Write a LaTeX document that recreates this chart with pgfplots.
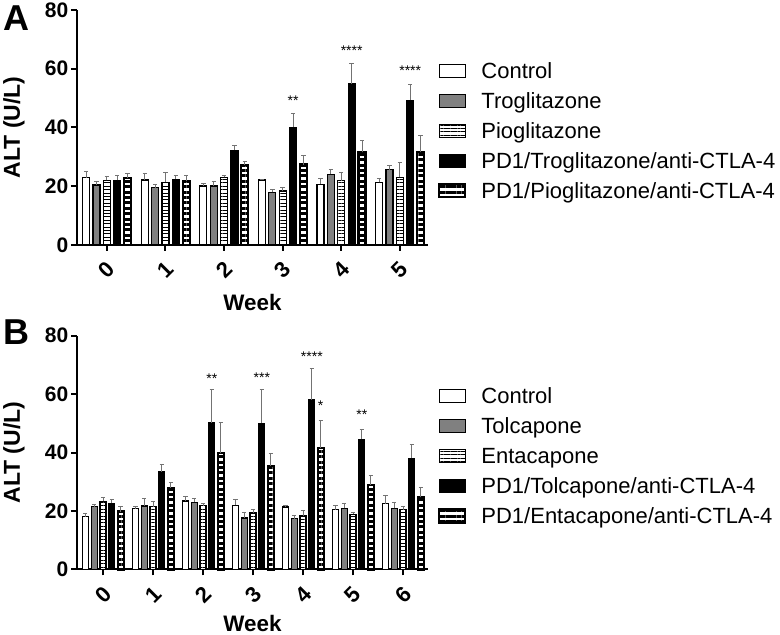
\documentclass[border=0pt]{standalone}
\usepackage{fontspec}
\setmainfont{Liberation Sans}
\usepackage{pgfplots}
\usepackage{pgfplotstable}
\pgfplotsset{compat=1.18}
\usetikzlibrary{patterns.meta}

% ---------- Panel A data: week, mean, upper error ----------
\pgfplotstableread{
wk val err
0 22.9 2.0
1 22.1 2.3
2 20.1 0.9
3 22.1 0.3
4 20.7 2.0
5 21.3 1.3
}\Actrl
\pgfplotstableread{
wk val err
0 20.4 1.1
1 19.5 1.2
2 20.1 1.6
3 17.9 1.1
4 24.0 1.7
5 25.6 1.5
}\Atrog
\pgfplotstableread{
wk val err
0 22.0 1.2
1 21.4 3.3
2 23.0 0.5
3 18.4 1.2
4 21.9 2.8
5 23.1 5.1
}\Apio
\pgfplotstableread{
wk val err
0 22.0 1.6
1 22.4 1.1
2 32.3 1.6
3 40.1 4.7
4 54.9 6.9
5 49.2 5.5
}\Apdtrog
\pgfplotstableread{
wk val err
0 22.9 1.5
1 21.7 2.0
2 27.3 1.2
3 27.4 3.1
4 31.5 4.0
5 31.6 5.7
}\Apdpio

% ---------- Panel B data ----------
\pgfplotstableread{
wk val err
0 18.0 1.0
1 20.8 0.9
2 23.4 1.7
3 22.0 1.8
4 21.4 0.5
5 20.4 1.6
6 22.5 2.9
}\Bctrl
\pgfplotstableread{
wk val err
0 21.5 0.7
1 21.7 2.5
2 23.0 1.3
3 17.6 1.8
4 17.3 1.0
5 20.9 1.7
6 20.9 1.9
}\Btolc
\pgfplotstableread{
wk val err
0 23.3 1.4
1 21.5 1.7
2 21.8 0.8
3 19.3 1.3
4 18.3 1.7
5 18.9 0.5
6 20.4 1.1
}\Benta
\pgfplotstableread{
wk val err
0 22.6 1.4
1 33.4 2.6
2 50.2 11.5
3 50.0 11.4
4 58.0 10.7
5 44.5 3.4
6 38.0 4.8
}\Bpdtolc
\pgfplotstableread{
wk val err
0 19.8 1.7
1 27.9 2.0
2 39.7 10.5
3 35.4 4.1
4 41.6 9.4
5 28.9 3.3
6 24.7 3.2
}\Bpdenta

\definecolor{midgray}{HTML}{808080}
\tikzset{astx/.style={font=\fontsize{7}{7}\selectfont, inner sep=0pt}}

\pgfplotsset{
  sCtrl/.style={fill=white, draw=black, line width=0.6pt},
  sGray/.style={fill=midgray, draw=black, line width=0.6pt},
  sHatch/.style={fill=white, draw=black, line width=0.6pt,
     postaction={pattern={Lines[angle=0,distance=1.7pt,line width=0.45pt]}}},
  sBlack/.style={fill=black, draw=black, line width=0.6pt},
  sThick/.style={fill=white, draw=black, line width=1.1pt,
     postaction={pattern={Lines[angle=0,distance=2.7pt,line width=1.5pt]}}},
  common/.style={
    scale only axis,
    width=175.5pt,
    ymin=0, ymax=80,
    ytick={0,20,40,60,80},
    ybar,
    bar width=0.12,
    axis lines=left,
    axis line style={-, line width=1pt, black},
    tick style={line width=1pt, black},
    tick align=outside,
    major tick length=3pt,
    /pgf/number format/assume math mode=true,
    tick label style={font=\fontsize{10.5}{12}\selectfont\bfseries},
    yticklabel style={inner sep=1.2pt},
    xtick=data,
    xticklabel style={rotate=45, anchor=center, font=\fontsize{11}{12}\selectfont\bfseries},
    xticklabel shift=9.5pt,
    every axis y label/.style={at={(axis description cs:-0.18,0.5)}, rotate=90, anchor=center, font=\fontsize{11.5}{13}\selectfont\bfseries},
    every axis x label/.style={at={(axis description cs:0.5,0)}, anchor=center, font=\fontsize{11.2}{13}\selectfont\bfseries},
    ylabel={ALT (U/L)},
    xlabel={Week},
    error bars/y dir=plus,
    error bars/y explicit,
    error bars/error bar style={line width=0.5pt, draw=black!55},
    error bars/error mark options={rotate=90, mark size=1.1pt, line width=0.5pt, draw=black!55},
    clip=false,
    legend image code/.code={\draw[##1] (0pt,0.6pt) rectangle (13pt,7.1pt);},
    legend style={at={(1.028,0.779)}, anchor=north west, draw=none, fill=none,
      inner sep=0pt, row sep=0pt, font=\fontsize{11}{13}\selectfont,
      nodes={inner sep=0pt, text height=8pt, text depth=7pt, anchor=base west},
      /tikz/every odd column/.append style={column sep=7.5pt}},
    legend cell align=left,
  },
}

\begin{document}
\begin{tikzpicture}
\useasboundingbox (0,0) rectangle (390pt,317.5pt);

% ---------------- Panel A ----------------
\begin{axis}[common,
  at={(38.5pt,195pt)}, anchor=south west,
  height=117.5pt,
  xmin=-0.51, xmax=5.48,
  every axis x label/.append style={yshift=-29pt},
]
\addplot[sCtrl, bar shift=-0.354] table[x=wk, y=val, y error=err] {\Actrl};
\addplot[sGray, bar shift=-0.177] table[x=wk, y=val, y error=err] {\Atrog};
\addplot[sHatch, bar shift=0] table[x=wk, y=val, y error=err] {\Apio};
\addplot[sBlack, bar shift=0.177] table[x=wk, y=val, y error=err] {\Apdtrog};
\addplot[sThick, bar shift=0.354] table[x=wk, y=val, y error=err] {\Apdpio};
\legend{Control, Troglitazone, Pioglitazone, PD1/Troglitazone/anti-CTLA-4, PD1/Pioglitazone/anti-CTLA-4}
\node[astx] at (axis cs:3.177,49) {**};
\node[astx] at (axis cs:4.177,66) {****};
\node[astx] at (axis cs:5.177,59.2) {****};
\end{axis}

% ---------------- Panel B ----------------
\begin{axis}[common,
  at={(38.5pt,32.75pt)}, anchor=south west,
  height=117pt,
  xmin=-0.52, xmax=6.5,
  every axis x label/.append style={yshift=-27pt},
]
\addplot[sCtrl, bar shift=-0.354] table[x=wk, y=val, y error=err] {\Bctrl};
\addplot[sGray, bar shift=-0.177] table[x=wk, y=val, y error=err] {\Btolc};
\addplot[sHatch, bar shift=0] table[x=wk, y=val, y error=err] {\Benta};
\addplot[sBlack, bar shift=0.177] table[x=wk, y=val, y error=err] {\Bpdtolc};
\addplot[sThick, bar shift=0.354] table[x=wk, y=val, y error=err] {\Bpdenta};
\legend{Control, Tolcapone, Entacapone, PD1/Tolcapone/anti-CTLA-4, PD1/Entacapone/anti-CTLA-4}
\node[astx] at (axis cs:2.177,65.3) {**};
\node[astx] at (axis cs:3.177,65.7) {***};
\node[astx] at (axis cs:4.177,72.7) {****};
\node[astx] at (axis cs:4.354,56) {*};
\node[astx] at (axis cs:5.177,53) {**};
\end{axis}

% panel letters
\node[font=\fontsize{18}{20}\selectfont\bfseries] at (8pt,308.5pt) {A};
\node[font=\fontsize{18}{20}\selectfont\bfseries] at (8pt,151.5pt) {B};
\end{tikzpicture}
\end{document}
